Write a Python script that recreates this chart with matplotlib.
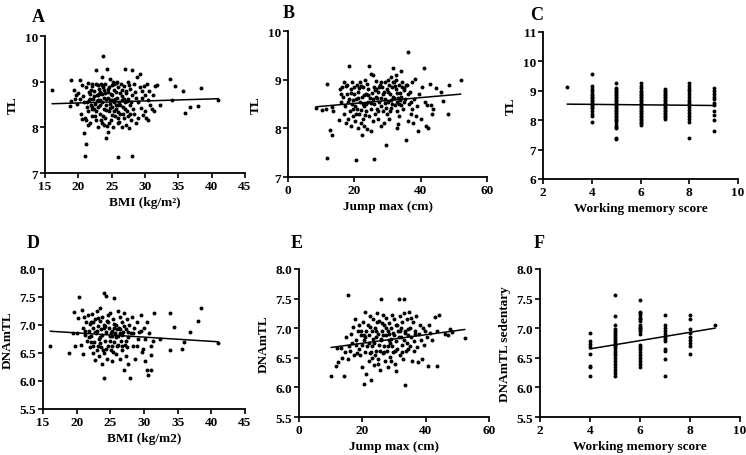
import numpy as np
import matplotlib
matplotlib.use('Agg')
from matplotlib import pyplot as plt
from matplotlib.ticker import FormatStrFormatter

plt.rcParams['font.family'] = ['Liberation Serif', 'DejaVu Serif']
plt.rcParams['font.weight'] = 'bold'

# ---- panel A: BMI vs TL ----
bmi_a = [16.1, 18.9, 18.8, 18.9, 19.4, 19.6, 19.8, 20.2, 20.3, 20.4, 20.5, 20.0, 19.5,
         20.6, 20.8, 20.9, 21.0, 21.1, 21.05, 21.2, 21.3, 21.4, 21.5, 21.6, 21.7, 21.8, 21.9, 22.0, 22.0, 21.5, 21.2, 20.7, 21.6,
         22.2, 22.3, 22.4, 22.5, 22.6, 22.7, 22.8, 22.9, 23.0, 23.0, 23.1, 23.2, 23.3, 23.4, 23.5, 23.5, 23.6, 23.7, 23.7, 23.8,
         23.9, 24.0, 24.0, 24.1, 24.2, 24.3, 24.3, 24.4, 22.5, 22.9, 23.3, 23.8, 22.1, 23.6, 24.1,
         24.5, 24.5, 24.6, 24.7, 24.8, 24.9, 25.0, 25.0, 25.1, 25.2, 25.3, 25.4, 25.5, 25.6, 25.7, 25.8, 25.9, 26.0, 26.0, 26.0,
         24.6, 25.4, 25.8, 24.9, 25.2,
         26.2, 26.3, 26.4, 26.5, 26.6, 26.7, 26.8, 26.9, 27.0, 27.0, 27.1, 27.2, 27.3, 27.4, 27.5, 27.6, 27.7, 27.8, 27.9, 28.0,
         28.0, 28.1, 28.2, 28.3, 26.5, 27.5, 26.1, 27.9,
         28.4, 28.5, 28.6, 28.8, 28.9, 29.0, 29.2, 29.3, 29.4, 29.6, 29.7, 29.8, 30.0, 30.0, 28.7, 29.5,
         30.2, 30.3, 30.4, 30.5, 30.6, 30.8, 31.0, 31.2, 31.3, 31.5, 31.8, 32.3, 33.8, 34.0, 34.5, 35.7, 36.0, 36.8, 38.0, 38.4, 41.0,
         21.3, 21.8, 22.1, 22.4, 22.6, 22.8, 23.1, 23.3, 23.5, 23.7, 23.9, 24.2, 24.4, 24.6, 24.8, 25.1, 25.3, 25.5, 25.7, 25.9,
         26.1, 26.3, 26.6, 26.9, 27.1, 27.3, 27.6, 27.8, 22.0, 23.0, 24.0, 25.0, 26.0, 27.0, 22.7, 24.7, 26.7, 21.9, 23.4, 25.6]
tl_a = [8.81, 9.03, 8.47, 8.58, 8.82, 8.70, 8.52, 9.03, 8.62, 8.30, 8.18, 8.75, 8.62,
        8.92, 8.55, 7.87, 8.20, 7.63, 7.38, 8.88, 8.45, 8.35, 8.98, 8.60, 8.10, 8.72, 8.50, 8.90, 8.25, 8.05, 8.15, 8.68, 8.78,
        8.62, 8.40, 8.80, 8.52, 9.25, 8.15, 8.70, 8.92, 8.45, 8.00, 8.85, 8.60, 8.30, 8.95, 8.72, 8.10, 8.55, 9.56, 8.88, 8.40,
        8.65, 8.20, 8.95, 7.76, 8.50, 9.27, 8.03, 8.78, 8.25, 8.60, 8.78, 8.05, 8.95, 9.10, 8.62,
        7.89, 8.85, 8.35, 8.60, 9.05, 8.15, 8.45, 8.92, 8.70, 8.00, 8.55, 8.82, 8.25, 8.98, 8.40, 8.65, 8.10, 7.36, 8.88, 8.50,
        8.10, 8.35, 9.00, 8.72, 9.00,
        8.30, 8.75, 8.95, 8.00, 8.60, 8.45, 8.90, 8.20, 9.28, 8.55, 8.05, 8.80, 8.35, 9.00, 8.62, 7.98, 8.48, 8.85, 8.15, 7.38,
        8.70, 9.25, 8.40, 8.95, 8.68, 8.25, 8.12, 8.55,
        8.30, 8.78, 8.10, 9.10, 8.55, 8.20, 8.88, 9.17, 8.42, 8.65, 8.27, 8.90, 8.70, 8.35, 8.65, 8.80,
        8.20, 8.95, 8.60, 8.15, 8.80, 8.48, 8.40, 8.70, 8.35, 8.90, 8.92, 8.48, 9.05, 8.60, 8.90, 8.80, 8.32, 8.45, 8.47, 8.86, 8.60,
        8.55, 8.62, 8.45, 8.68, 8.35, 8.58, 8.72, 8.48, 8.92, 8.25, 8.82, 8.38, 8.65, 8.88, 8.42, 8.28, 8.95, 8.62, 8.78, 8.33,
        8.55, 8.48, 8.82, 8.62, 8.75, 8.58, 8.92, 8.30, 8.40, 8.70, 8.75, 8.60, 8.20, 8.40, 8.95, 8.52, 8.30, 8.82, 8.15, 8.50]

# ---- panel B: jump max vs TL ----
jump_b = [8.5, 10.1, 11.5, 11.7, 11.6, 12.8, 13.4, 13.3, 13.6,
          15.5, 15.7, 16.0, 16.2, 16.5, 16.8, 17.0, 17.2, 17.5, 17.7, 17.9, 18.0, 18.3, 18.5, 18.7, 18.9, 19.0, 19.2, 19.4, 19.6,
          19.8, 20.0, 15.9, 17.4, 19.5,
          20.2, 20.4, 20.6, 20.7, 20.9, 21.0, 21.2, 21.4, 21.6, 21.8, 22.0, 22.2, 22.4, 22.5, 22.7, 22.9, 23.0, 23.2, 23.4, 23.6,
          23.8, 24.0, 24.2, 24.3, 24.5, 24.7, 24.9, 25.0, 25.0, 21.5, 23.5, 20.5, 22.8,
          25.3, 25.5, 25.6, 25.8, 25.9, 26.0, 26.2, 26.4, 26.6, 26.8, 27.0, 27.2, 27.5, 27.7, 27.9, 28.1, 28.3, 28.5, 28.7, 28.9,
          29.1, 29.3, 29.5, 29.6, 29.8, 30.0, 26.5, 28.0, 29.0,
          30.2, 30.4, 30.6, 30.8, 31.0, 31.2, 31.4, 31.6, 31.8, 32.0, 32.2, 32.4, 32.6, 32.8, 33.0, 33.2, 33.4, 33.6, 33.8, 34.0,
          34.2, 34.5, 34.7, 35.0, 31.5, 32.5, 33.5, 34.3, 30.5, 33.0,
          35.3, 35.7, 36.0, 36.2, 36.3, 36.5, 36.8, 37.2, 37.5, 37.8, 38.0, 38.3, 38.6, 39.0, 39.3, 39.6, 40.0, 40.4, 40.9, 41.2,
          41.5, 42.0, 42.2, 42.8, 43.2, 43.5, 43.8, 44.5, 46.2, 46.7, 48.2, 48.4, 52.0,
          18.1, 19.1, 20.1, 21.1, 22.1, 23.1, 24.1, 25.1, 26.1, 27.1, 28.1, 29.1, 30.1, 31.1, 32.1, 33.1, 34.1, 35.1, 36.1, 37.1,
          19.7, 21.9, 23.9, 25.7, 27.3, 29.7, 31.7, 33.7, 35.5, 37.5, 22.6, 26.9, 30.9, 32.9, 34.9]
tl_b = [8.41, 8.38, 8.40, 8.92, 7.39, 7.96, 7.87, 8.43, 8.36,
        8.18, 8.80, 8.55, 8.85, 8.65, 8.30, 8.95, 8.45, 8.12, 8.70, 8.90, 8.20, 9.28, 8.60, 8.35, 8.80, 8.05, 8.50, 8.95, 8.25,
        8.70, 8.85, 8.70, 8.88, 8.40,
        8.15, 8.60, 7.34, 8.90, 8.40, 8.00, 8.75, 8.30, 8.95, 8.55, 8.10, 8.65, 7.87, 8.85, 8.20, 8.45, 8.05, 9.00, 8.35, 8.70,
        7.98, 8.55, 8.80, 9.28, 8.25, 8.62, 9.12, 8.40, 7.95, 8.82, 8.50, 8.30, 8.68,
        8.72, 9.10, 8.15, 7.38, 8.50, 8.85, 8.30, 8.65, 8.98, 8.40, 8.75, 8.20, 8.55, 8.90, 8.05, 8.62, 8.85, 8.35, 8.70, 8.10,
        8.52, 8.95, 8.42, 7.65, 8.80, 9.00, 8.80, 8.45, 8.75,
        8.55, 8.90, 8.35, 8.70, 9.05, 8.50, 8.85, 9.25, 8.62, 8.95, 8.48, 8.80, 9.10, 8.55, 8.72, 8.08, 8.90, 8.25, 8.58, 9.18,
        8.65, 8.95, 8.40, 8.78, 8.65, 9.00, 8.50, 8.85, 8.20, 8.00,
        8.60, 7.77, 8.90, 9.57, 8.15, 8.50, 8.75, 8.30, 8.95, 8.12, 8.60, 9.02, 8.25, 8.45, 7.95, 8.70, 8.20, 8.85, 9.25, 8.55,
        8.05, 8.48, 8.00, 8.92, 8.48, 8.30, 8.40, 8.82, 8.75, 8.57, 8.30, 8.90, 8.99,
        8.55, 8.72, 8.45, 8.62, 8.88, 8.28, 8.68, 8.52, 8.78, 8.35, 8.95, 8.60, 8.75, 8.42, 8.88, 8.62, 8.48, 8.82, 8.70, 8.55,
        8.58, 8.38, 8.92, 8.60, 8.85, 8.30, 8.95, 8.72, 8.90, 8.40, 8.50, 8.62, 8.58, 8.35, 8.55]

# ---- panel C: working memory vs TL (values per score) ----
wm_c_scores = [3, 4, 5, 6, 7, 8, 9]
tl_c_groups = [
    [9.12],
    [9.57, 9.15, 9.05, 8.98, 8.90, 8.85, 8.80, 8.75, 8.70, 8.65, 8.60, 8.55, 8.50, 8.45, 8.40, 8.30, 8.22, 8.15, 7.95],
    [9.28, 9.10, 9.05, 9.00, 8.95, 8.90, 8.85, 8.80, 8.75, 8.70, 8.65, 8.60, 8.55, 8.50, 8.45, 8.40, 8.35, 8.30, 8.25,
     8.20, 8.15, 8.10, 8.05, 8.00, 7.95, 7.85, 7.78, 7.72, 7.40, 7.35],
    [9.25, 9.15, 9.08, 9.00, 8.95, 8.90, 8.85, 8.80, 8.75, 8.70, 8.65, 8.60, 8.55, 8.50, 8.45, 8.40, 8.35, 8.30, 8.25,
     8.20, 8.15, 8.10, 8.05, 8.00, 7.95, 7.90, 7.85],
    [9.05, 9.00, 8.95, 8.90, 8.85, 8.80, 8.75, 8.70, 8.65, 8.60, 8.55, 8.50, 8.45, 8.40, 8.35, 8.30, 8.25, 8.20, 8.15,
     8.10, 8.05],
    [9.28, 9.15, 9.05, 8.98, 8.90, 8.80, 8.70, 8.62, 8.55, 8.45, 8.35, 8.25, 8.15, 8.05, 7.95, 7.38],
    [9.10, 9.00, 8.88, 8.80, 8.72, 8.60, 8.50, 8.30, 8.18, 8.02, 7.63],
]

# ---- panel D: BMI vs DNAmTL ----
bmi_d = [16.1, 18.9, 19.4, 19.6, 19.8, 20.0, 20.2, 20.4, 20.6, 20.8, 20.9, 21.0, 21.1, 21.2, 21.4, 21.5, 21.7, 21.8, 22.0, 22.0,
         22.2, 22.3, 22.4, 22.5, 22.6, 22.7, 22.8, 22.9, 23.0, 23.1, 23.2, 23.3, 23.4, 23.5, 23.6, 23.7, 23.8, 23.9, 24.0, 24.0,
         24.1, 24.2, 24.3, 24.4, 24.5, 24.6, 24.7, 24.8, 24.9, 22.5, 23.0, 23.5, 24.0, 24.2, 23.3,
         25.0, 25.1, 25.2, 25.3, 25.4, 25.5, 25.6, 25.7, 25.8, 25.9, 26.0, 26.1, 26.2, 26.3, 26.4, 26.5, 26.6, 26.7, 26.8, 26.9,
         27.0, 27.1, 27.2, 27.3, 27.4, 27.5, 27.6, 27.7, 27.8, 27.9, 28.0, 25.5, 26.5, 27.5, 25.2,
         28.2, 28.4, 28.5, 28.7, 28.9, 29.1, 29.3, 29.5, 29.7, 29.9, 30.0, 30.1, 30.2, 30.4, 30.5, 30.6, 30.8, 31.0, 31.1, 31.1,
         31.3, 31.5, 32.4, 33.8, 33.9, 34.4, 35.7, 36.0, 36.8, 38.0, 38.4, 41.0,
         21.3, 21.9, 22.1, 22.4, 22.7, 23.0, 23.2, 23.5, 23.8, 24.1, 24.3, 24.6, 24.9, 25.1, 25.4, 25.6, 25.9, 26.2, 26.4, 26.7,
         27.0, 27.3, 27.6, 22.2, 23.6, 24.5, 25.3, 26.0, 26.8, 28.3, 29.0, 29.6]
dnamtl_d = [6.62, 6.50, 6.85, 7.24, 6.62, 6.85, 7.12, 7.50, 6.65, 7.27, 6.48, 6.95, 7.15, 6.82, 7.05, 6.72, 7.18, 6.90, 6.60, 7.02,
            6.80, 7.20, 6.50, 6.95, 6.70, 7.10, 6.38, 6.85, 7.25, 6.62, 6.98, 6.45, 7.08, 6.78, 6.92, 6.30, 7.15, 6.55, 6.05, 7.00,
            7.57, 6.72, 6.88, 7.51, 6.40, 7.05, 6.62, 6.95, 6.80, 7.05, 6.90, 7.30, 6.50, 6.98, 6.75,
            7.22, 6.55, 6.90, 6.35, 7.10, 6.70, 7.49, 6.85, 6.48, 7.00, 6.62, 7.25, 6.80, 6.95, 6.40, 7.15, 6.72, 6.55, 7.05, 6.88,
            6.20, 7.22, 6.65, 6.92, 6.45, 7.10, 6.78, 6.30, 7.00, 6.05, 6.85, 6.95, 6.85, 6.60, 6.62,
            7.15, 6.62, 6.95, 6.40, 7.05, 6.75, 6.88, 7.18, 6.52, 6.57, 6.95, 6.36, 6.75, 6.20, 7.05, 6.10, 6.85, 6.62, 6.20, 6.46,
            6.72, 7.22, 6.75, 6.55, 7.22, 6.96, 6.57, 6.69, 6.87, 7.07, 7.30, 6.68,
            6.90, 6.78, 7.05, 6.62, 6.88, 6.55, 7.12, 6.68, 6.82, 6.95, 6.58, 7.18, 6.72, 6.85, 6.52, 7.02, 6.78, 6.65, 6.92, 6.82,
            6.98, 6.72, 6.88, 6.70, 6.60, 7.08, 6.80, 6.92, 6.62, 6.85, 6.62, 6.90]

# ---- panel E: jump max vs DNAmTL ----
jump_e = [10.2, 11.6, 12.0, 12.3, 13.2, 13.5, 14.1, 14.5, 15.0, 15.4, 15.6, 15.8, 16.0, 16.5, 16.8, 17.0, 17.3, 17.6, 17.9,
          18.2, 18.5, 18.8, 19.0, 19.3, 19.6, 19.9, 20.0, 20.2, 20.4, 20.6, 20.8, 21.0, 21.2, 21.3, 21.5, 21.7, 22.0, 22.2,
          22.4, 22.6, 22.8, 23.0, 23.2, 23.4, 23.6, 23.8, 24.0, 24.2, 24.4, 24.6, 24.8, 25.0, 25.2, 25.4, 25.6, 25.8, 26.0,
          26.2, 26.4, 26.6, 26.8, 27.0, 27.2, 27.4, 27.6, 27.8, 28.0, 28.2, 28.4, 28.6, 28.8, 29.0, 29.2, 29.4, 29.6, 29.8,
          30.0, 30.2, 30.5, 30.7, 30.9, 31.1, 31.3, 31.6, 31.8, 32.0, 32.2, 32.4, 32.6, 32.8, 33.0, 33.1, 33.3, 33.4, 33.6,
          33.8, 34.0, 34.3, 34.6, 34.9, 35.2, 35.5, 35.8, 36.1, 36.4, 36.7, 37.0, 37.3, 37.6, 37.9, 38.2, 38.5, 38.8, 39.1,
          39.5, 39.9, 40.3, 40.7, 41.0, 41.5, 42.0, 42.8, 43.5, 43.7, 44.2, 46.0, 47.0, 47.6, 48.4, 52.3,
          22.0, 24.0, 26.0, 28.0, 30.0, 32.0, 34.0, 27.0, 25.0, 23.0,
          18.0, 19.5, 21.0, 22.5, 23.5, 24.5, 25.5, 26.5, 27.5, 28.5, 29.5, 30.5, 31.5, 32.5, 33.5, 34.5, 35.5, 36.5, 20.5, 22.5,
          24.3, 26.3, 28.3, 30.3, 32.3, 34.3, 36.3, 29.0]
dnamtl_e = [6.20, 6.36, 6.67, 6.43, 6.66, 6.50, 6.20, 6.60, 6.85, 6.48, 7.56, 6.70, 6.62, 6.90, 6.75, 7.02, 6.55, 7.15, 6.80,
            6.58, 6.95, 6.65, 7.05, 6.55, 6.88, 6.72, 6.35, 7.10, 6.05, 6.80, 7.28, 6.60, 6.95, 6.23, 6.70, 7.05, 6.45, 6.88,
            7.20, 6.60, 6.12, 6.95, 6.50, 7.15, 6.75, 6.38, 7.00, 6.62, 6.85, 7.25, 6.48, 6.90, 6.72, 7.12, 6.30, 6.80, 7.50,
            6.95, 6.58, 7.22, 6.70, 7.05, 6.45, 6.88, 7.18, 6.62, 6.95, 6.35, 7.08, 6.75, 6.52, 7.00, 6.82, 7.22, 6.60, 6.92,
            7.15, 6.40, 6.78, 6.28, 7.05, 6.65, 6.95, 7.50, 6.55, 7.20, 6.85, 6.72, 7.10, 6.48, 7.49, 6.80, 7.25, 6.04, 6.92,
            6.62, 7.15, 6.88, 7.28, 6.70, 7.00, 6.85, 6.45, 7.10, 6.78, 6.95, 7.20, 6.68, 6.43, 6.90, 7.05, 6.80, 6.48, 7.00,
            6.72, 6.95, 6.85, 6.37, 7.05, 6.92, 6.80, 7.19, 6.37, 6.95, 7.22, 6.90, 6.88, 6.98, 6.94, 6.83,
            6.75, 6.55, 6.82, 6.70, 6.88, 6.95, 6.75, 6.60, 6.40, 6.70,
            6.72, 6.95, 6.85, 6.58, 6.82, 7.10, 6.62, 6.88, 7.00, 6.80, 6.70, 7.05, 6.85, 6.60, 6.95, 6.65, 7.18, 6.90, 6.88, 7.02,
            6.95, 7.08, 6.90, 6.62, 7.00, 6.98, 6.62, 6.45]

# ---- panel F: working memory vs DNAmTL (sedentary) ----
wm_f_scores = [4, 5, 6, 7, 8, 9]
dnamtl_f_groups = [
    [6.92, 6.78, 6.74, 6.68, 6.56, 6.37, 6.35, 6.19],
    [7.56, 7.20, 7.05, 6.98, 6.95, 6.92, 6.88, 6.85, 6.82, 6.78, 6.75, 6.72, 6.70, 6.66, 6.62, 6.58, 6.55, 6.50,
     6.45, 6.40, 6.35, 6.30, 6.25, 6.19],
    [7.48, 7.28, 7.25, 7.22, 7.18, 7.15, 7.12, 7.05, 7.02, 7.00, 6.98, 6.95, 6.90, 6.72, 6.68, 6.65, 6.60, 6.55,
     6.50, 6.45, 6.40, 6.35],
    [7.23, 7.05, 7.00, 6.95, 6.90, 6.85, 6.82, 6.78, 6.65, 6.62, 6.48, 6.20],
    [7.23, 7.15, 6.98, 6.92, 6.85, 6.80, 6.75, 6.70, 6.57],
    [7.05],
]


def expand(scores, groups):
    xs, ys = [], []
    for s, g in zip(scores, groups):
        xs.extend([s] * len(g))
        ys.extend(g)
    return np.array(xs, float), np.array(ys, float)


def scatter_panel(fig, rect, x, y, letter, letter_xy, xlabel, ylabel, xlim, xticks, ylim, yticks, yfmt=None):
    ax = fig.add_axes(rect)
    x = np.asarray(x, float)
    y = np.asarray(y, float)
    ax.scatter(x, y, s=8, color='black', linewidths=0, zorder=3)
    # least squares line over the data range
    k, b = np.polyfit(x, y, 1)
    xx = np.array([x.min(), x.max()])
    ax.plot(xx, k * xx + b, color='black', lw=1.1, zorder=2)
    ax.set_xlim(*xlim)
    ax.set_ylim(*ylim)
    ax.set_xticks(xticks)
    ax.set_yticks(yticks)
    if yfmt:
        ax.yaxis.set_major_formatter(FormatStrFormatter(yfmt))
    for s in ['top', 'right']:
        ax.spines[s].set_visible(False)
    for s in ['left', 'bottom']:
        ax.spines[s].set_linewidth(1.3)
    ax.tick_params(direction='out', length=3.5, width=1.2, labelsize=9.5, pad=1.5)
    for lab in ax.get_xticklabels() + ax.get_yticklabels():
        lab.set_fontweight('bold')
    ax.set_xlabel(xlabel, fontsize=9.5, fontweight='bold', labelpad=3)
    ax.set_ylabel(ylabel, fontsize=9.5, fontweight='bold', labelpad=4)
    fig.text(letter_xy[0] / 746, 1 - letter_xy[1] / 456, letter, fontsize=13, fontweight='bold',
             ha='center', va='center')
    return ax


fig = plt.figure(figsize=(7.46, 4.56), dpi=100)

scatter_panel(fig, [0.0603, 0.6184, 0.2681, 0.3004], bmi_a, tl_a, 'A', (38, 17),
              'BMI (kg/m²)', 'TL', (15, 45), range(15, 46, 5), (7, 10), [7, 8, 9, 10])
scatter_panel(fig, [0.3861, 0.6096, 0.2668, 0.3202], jump_b, tl_b, 'B', (289, 13),
              'Jump max (cm)', 'TL', (0, 60), [0, 20, 40, 60], (7, 10), [7, 8, 9, 10])
xc, yc = expand(wm_c_scores, tl_c_groups)
scatter_panel(fig, [0.7279, 0.6053, 0.2614, 0.3224], xc, yc, 'C', (537, 15),
              'Working memory score', 'TL', (2, 10), [2, 4, 6, 8, 10], (6, 11), [6, 7, 8, 9, 10, 11])
scatter_panel(fig, [0.0576, 0.1009, 0.2708, 0.3070], bmi_d, dnamtl_d, 'D', (33, 244),
              'BMI (kg/m2)', 'DNAmTL', (15, 45), range(15, 46, 5), (5.5, 8.0), np.arange(5.5, 8.01, 0.5), '%.1f')
scatter_panel(fig, [0.4008, 0.0833, 0.2547, 0.3246], jump_e, dnamtl_e, 'E', (297, 243),
              'Jump max (cm)', 'DNAmTL', (0, 60), [0, 20, 40, 60], (5.5, 8.0), np.arange(5.5, 8.01, 0.5), '%.1f')
xf, yf = expand(wm_f_scores, dnamtl_f_groups)
scatter_panel(fig, [0.7239, 0.0833, 0.2681, 0.3246], xf, yf, 'F', (539, 243),
              'Working memory score', 'DNAmTL sedentary', (2, 10), [2, 4, 6, 8, 10], (5.5, 8.0),
              np.arange(5.5, 8.01, 0.5), '%.1f')

fig.savefig('out.png', dpi=100)
